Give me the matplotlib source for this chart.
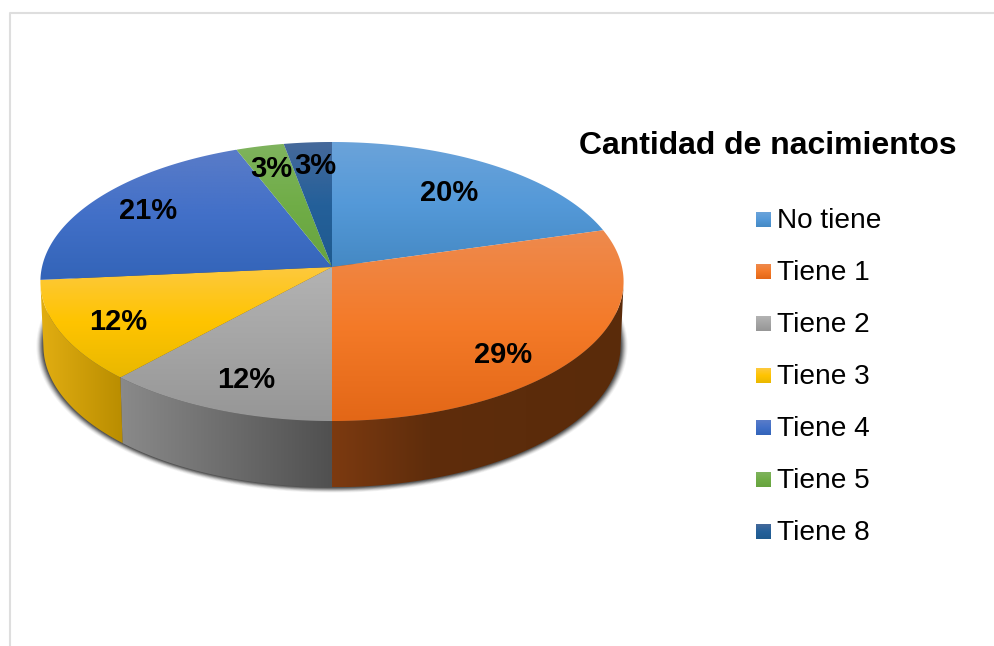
import matplotlib
matplotlib.use("Agg")
import matplotlib.pyplot as plt
import numpy as np
from matplotlib.colors import LinearSegmentedColormap
from matplotlib.patches import Polygon, Rectangle

plt.rcParams["font.family"] = ["Liberation Sans", "DejaVu Sans"]

# data
categories = ["No tiene", "Tiene 1", "Tiene 2", "Tiene 3", "Tiene 4", "Tiene 5", "Tiene 8"]
counts = [7, 10, 4, 4, 7, 1, 1]
pct_labels = ["20%", "29%", "12%", "12%", "21%", "3%", "3%"]
title = "Cantidad de nacimientos"

# colours: light / middle / dark on the top face
top_light = ["#6ba3da", "#ee8a4e", "#b3b3b3", "#fdc93f", "#5a7cc8", "#7fb35e", "#46699a"]
top_mid = ["#5499d8", "#f47a28", "#a5a5a5", "#ffc400", "#4270c8", "#70ad47", "#24609a"]
top_dark = ["#4589c4", "#e36717", "#969696", "#e9b800", "#3364b8", "#67a33f", "#1f5a8e"]
# wall colours, left to right
wall_stops = {
    1: ["#7c3a10", "#5f2d0c", "#5c2c0b", "#5a2b0a"],
    2: ["#8a8a8a", "#505050"],
    3: ["#e2ae12", "#b98d00"],
}

# layout, in pixels
CX, CY = 332, 267
K = 0.104
label_xy = [(449, 193), (503, 355), (246, 380), (118, 322), (148, 211), (271, 169), (315, 166)]


def project(t, b=290.0, a=138.0, dy=0.0):
    # t clockwise from 12 o'clock, simple perspective on the disc
    u, v = np.sin(t), np.cos(t)
    d = 1 + K * v
    return CX + b * u / d, CY + dy - a * v / d


def gradient(ax, patch, colors, horizontal=False, z=2):
    cmap = LinearSegmentedColormap.from_list("g", colors)
    ax.add_patch(patch)
    x0, y0, w, h = patch.get_extents().transformed(ax.transData.inverted()).bounds
    x1, y1 = x0 + w, y0 + h
    ramp = np.linspace(0, 1, 256)
    ramp = ramp.reshape(1, -1) if horizontal else ramp.reshape(-1, 1)
    im = ax.imshow(ramp, cmap=cmap, extent=(x0, x1, max(y0, y1), min(y0, y1)),
                   aspect="auto", zorder=z, interpolation="bilinear")
    im.set_clip_path(patch)


fig = plt.figure(figsize=(9.95, 6.46), dpi=100)
ax = fig.add_axes([0, 0, 1, 1])
ax.set_xlim(0, 995)
ax.set_ylim(646, 0)
ax.axis("off")

# frame
ax.plot([10, 10, 995], [646, 13, 13], color="#dedede", lw=1.5, zorder=1)

# slice angles
shares = np.array(counts) / sum(counts)
edges = np.concatenate([[0], np.cumsum(shares)]) * 2 * np.pi

# shadow under the body
rim = np.linspace(np.radians(60), np.radians(300), 200)
for grow, alpha in zip([7, 6, 5, 4, 3, 2, 1], [0.05, 0.08, 0.12, 0.17, 0.22, 0.28, 0.34]):
    xs, ys = project(rim, b=287 + grow, a=140 + grow * 0.7, dy=64)
    ax.add_patch(Polygon(np.column_stack([xs, ys]), closed=True, fc="#202020", ec="none",
                         alpha=alpha, zorder=1.5))

# side walls
for i in wall_stops:
    lo = max(edges[i], np.radians(97))
    hi = min(edges[i + 1], np.radians(263))
    t = np.linspace(lo, hi, 120)
    x_top, y_top = project(t)
    x_bot, y_bot = project(t, b=287, a=140, dy=64)
    pts = np.column_stack([np.r_[x_top, x_bot[::-1]], np.r_[y_top, y_bot[::-1]]])
    patch = Polygon(pts, closed=True, fc="none", ec="none", transform=ax.transData)
    gradient(ax, patch, wall_stops[i], horizontal=True, z=2)

# top face
for i in range(len(counts)):
    t = np.linspace(edges[i], edges[i + 1], 150)
    xs, ys = project(t)
    pts = np.column_stack([np.r_[CX, xs], np.r_[CY, ys]])
    patch = Polygon(pts, closed=True, fc="none", ec="none")
    gradient(ax, patch, [top_light[i], top_mid[i], top_dark[i]], z=3)

# percent labels
for (x, y), s in zip(label_xy, pct_labels):
    ax.text(x, y, s, ha="center", va="center", fontsize=21, fontweight="bold",
            color="black", zorder=5)

# title and legend
ax.text(768, 146, title, ha="center", va="center", fontsize=23, fontweight="bold", color="black")
for i, name in enumerate(categories):
    y = 219.5 + 52 * i
    box = Rectangle((756, y - 7.5), 15, 15, fc="none", ec="none")
    gradient(ax, box, [top_light[i], top_mid[i], top_dark[i]], z=3)
    ax.text(777, y + 2, name, ha="left", va="center", fontsize=20.2, color="black")

ax.set_xlim(0, 995)
ax.set_ylim(646, 0)
fig.savefig("out.png", dpi=100, facecolor="white")
